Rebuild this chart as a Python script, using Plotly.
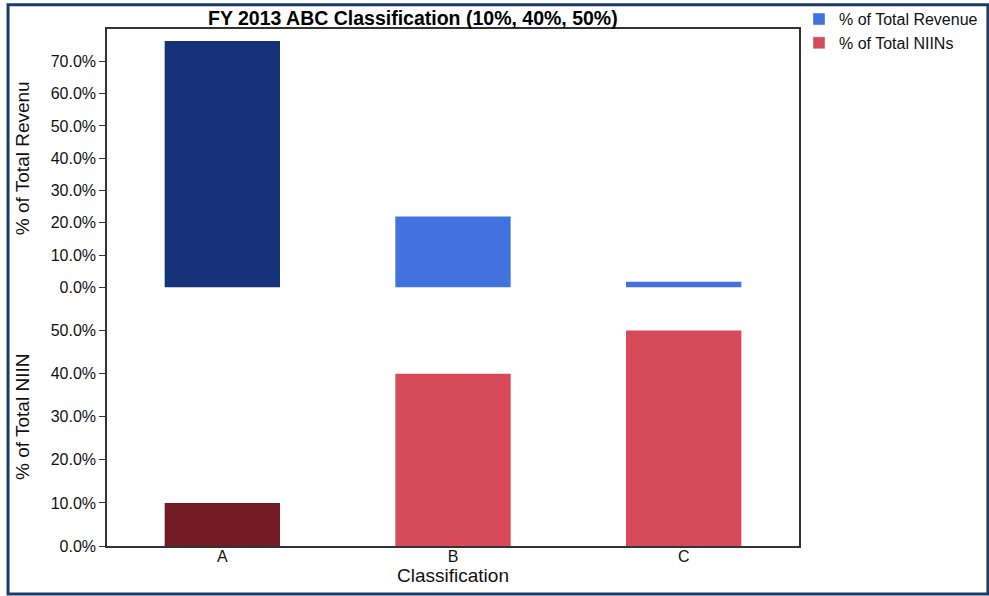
import plotly.graph_objects as go
from plotly.subplots import make_subplots

# data
classes = ["A", "B", "C"]
revenue_pct = [0.763, 0.220, 0.018]
niin_pct = [0.10, 0.40, 0.50]

rev_colors = ["#16337A", "#4272E0", "#4272E0"]
niin_colors = ["#741C26", "#D64A5A", "#D64A5A"]

FONT = "Liberation Sans, Arial, sans-serif"

fig = make_subplots(rows=2, cols=1, shared_xaxes=True, vertical_spacing=0)

fig.add_trace(go.Bar(x=classes, y=revenue_pct, marker_color=rev_colors,
                     marker_line_width=0, showlegend=False), row=1, col=1)
fig.add_trace(go.Bar(x=classes, y=niin_pct, marker_color=niin_colors,
                     marker_line_width=0, showlegend=False), row=2, col=1)

# legend-only entries
fig.add_trace(go.Bar(x=["A"], y=[None], name="% of Total Revenue",
                     marker_color="#4272E0"), row=1, col=1)
fig.add_trace(go.Bar(x=["A"], y=[None], name="% of Total NIINs",
                     marker_color="#D64A5A"), row=1, col=1)

fig.update_layout(
    width=989, height=596,
    margin=dict(l=107, r=190, t=29, b=50, autoexpand=False),
    paper_bgcolor="white", plot_bgcolor="white",
    barmode="overlay", bargap=0.5,
    font=dict(family=FONT, size=16, color="#111"),
    title=dict(text="<b>FY 2013 ABC Classification (10%, 40%, 50%)</b>",
               x=0.442, xref="paper", xanchor="center",
               y=0.97, yanchor="middle", font=dict(size=19.5, color="#000")),
    legend=dict(x=1.0, xanchor="left", y=1.052, yanchor="top",
                font=dict(size=16, color="#111"), bgcolor="rgba(0,0,0,0)"),
)

axis_line = dict(showline=True, linecolor="#333", linewidth=1.5, showgrid=False,
                 zeroline=False, automargin=False)

fig.update_xaxes(**axis_line, categoryorder="array", categoryarray=classes)
fig.update_xaxes(side="top", showticklabels=False, ticks="", row=1, col=1)
fig.update_xaxes(title=dict(text="Classification", standoff=2), ticks="",
                 ticklabelstandoff=-5, row=2, col=1)

fig.update_yaxes(**axis_line, mirror=True, ticks="outside", ticklen=6, tickcolor="#333",
                 tickformat=".1%")
fig.update_yaxes(range=[0, 0.8], title=dict(text="% of Total Revenu", standoff=16),
                 tickvals=[0, 0.1, 0.2, 0.3, 0.4, 0.5, 0.6, 0.7], row=1, col=1)
fig.update_yaxes(range=[0, 0.6], title=dict(text="% of Total NIIN", standoff=16),
                 tickvals=[0, 0.1, 0.2, 0.3, 0.4, 0.5], row=2, col=1)

# outer frame
fig.add_shape(type="rect", xref="paper", yref="paper",
              x0=-0.143, x1=1.273, y0=-0.093, y1=1.047,
              line=dict(color="#1D3A66", width=3), layer="below")

fig.write_html("out.html", config={"displayModeBar": False},
               post_script="document.body.style.margin='0px';")
